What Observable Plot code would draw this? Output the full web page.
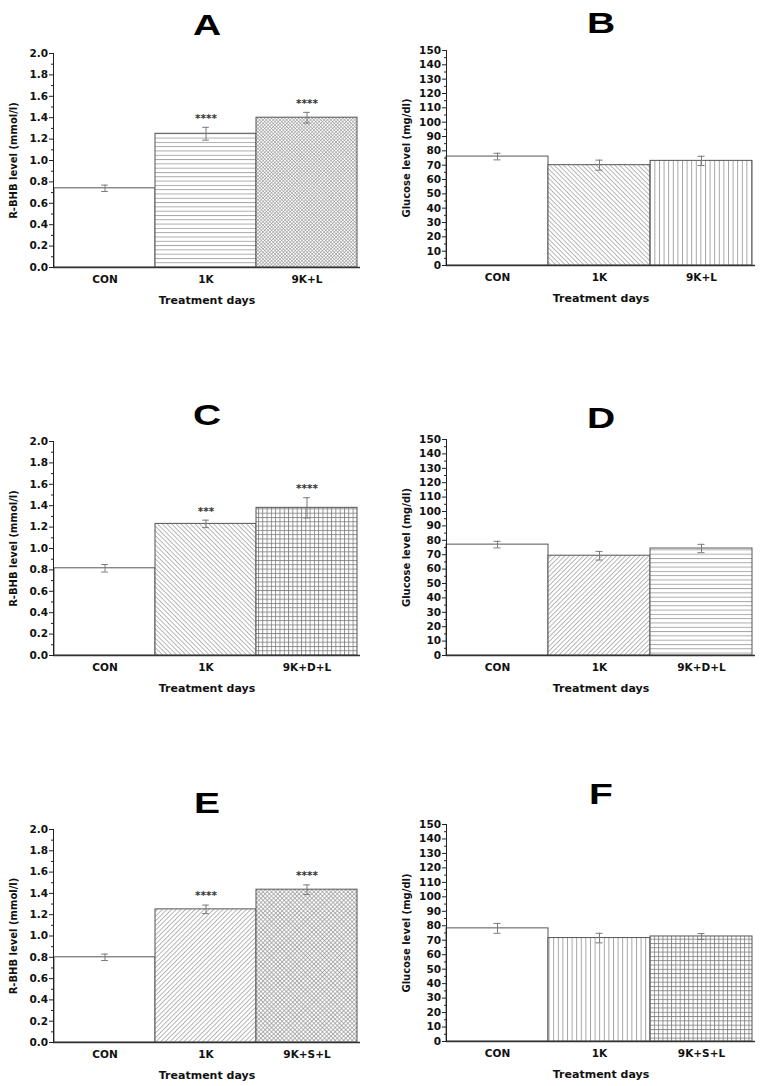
<!DOCTYPE html>
<html>
<head>
<meta charset="utf-8">
<script src="https://cdn.jsdelivr.net/npm/d3@7"></script>
<script src="https://cdn.jsdelivr.net/npm/@observablehq/plot@0.6"></script>
<style>
  body { margin: 0; background: #fff; }
  #fig { position: relative; width: 766px; height: 1086px; background: #fff; overflow: hidden; }
  .panel-title {
    position: absolute; width: 100px; text-align: center;
    font: bold 30px "Liberation Sans", Arial, sans-serif; line-height: 30px;
    color: #000; transform: scaleX(1.3);
  }
  .panel { position: absolute; }
</style>
</head>
<body>
<svg width="0" height="0" style="position:absolute">
  <defs>
    <pattern id="pH" patternUnits="userSpaceOnUse" width="10" height="4.3">
      <rect width="10" height="4.3" fill="#fff"/>
      <line x1="0" y1="0.5" x2="10" y2="0.5" stroke="#8c8c8c" stroke-width="0.8"/>
    </pattern>
    <pattern id="pV" patternUnits="userSpaceOnUse" width="4.6" height="10">
      <rect width="4.6" height="10" fill="#fff"/>
      <line x1="0.5" y1="0" x2="0.5" y2="10" stroke="#8c8c8c" stroke-width="0.8"/>
    </pattern>
    <pattern id="pBack" patternUnits="userSpaceOnUse" width="10" height="3.3" patternTransform="rotate(45)">
      <rect width="10" height="3.3" fill="#fff"/>
      <line x1="0" y1="0.5" x2="10" y2="0.5" stroke="#8c8c8c" stroke-width="0.7"/>
    </pattern>
    <pattern id="pFwd" patternUnits="userSpaceOnUse" width="10" height="3.3" patternTransform="rotate(-45)">
      <rect width="10" height="3.3" fill="#fff"/>
      <line x1="0" y1="0.5" x2="10" y2="0.5" stroke="#8c8c8c" stroke-width="0.7"/>
    </pattern>
    <pattern id="pGrid" patternUnits="userSpaceOnUse" width="4.3" height="4.3">
      <rect width="4.3" height="4.3" fill="#fff"/>
      <line x1="0" y1="0.5" x2="4.3" y2="0.5" stroke="#7a7a7a" stroke-width="0.8"/>
      <line x1="0.5" y1="0" x2="0.5" y2="4.3" stroke="#7a7a7a" stroke-width="0.8"/>
    </pattern>
    <pattern id="pXA" patternUnits="userSpaceOnUse" width="2.4" height="2.4" patternTransform="rotate(45)">
      <rect width="2.4" height="2.4" fill="#fff"/>
      <line x1="0" y1="0.3" x2="2.4" y2="0.3" stroke="#8c8c8c" stroke-width="0.6"/>
      <line x1="0.3" y1="0" x2="0.3" y2="2.4" stroke="#8c8c8c" stroke-width="0.6"/>
    </pattern>
    <pattern id="pXE" patternUnits="userSpaceOnUse" width="3" height="3" patternTransform="rotate(45)">
      <rect width="3" height="3" fill="#fff"/>
      <line x1="0" y1="0.4" x2="3" y2="0.4" stroke="#8a8a8a" stroke-width="0.7"/>
      <line x1="0.4" y1="0" x2="0.4" y2="3" stroke="#8a8a8a" stroke-width="0.7"/>
    </pattern>
  </defs>
</svg>
<div id="fig"></div>
<script>
// categories
const groupsAB = ["CON", "1K", "9K+L"];
const groupsCD = ["CON", "1K", "9K+D+L"];
const groupsEF = ["CON", "1K", "9K+S+L"];

// R-BHB level (mmol/l), mean and error bar half-length
const bhbA = [0.74, 1.25, 1.40];
const bhbErrA = [0.03, 0.06, 0.05];
const starsA = ["", "****", "****"];
const bhbC = [0.815, 1.23, 1.38];
const bhbErrC = [0.035, 0.035, 0.095];
const starsC = ["", "***", "****"];
const bhbE = [0.80, 1.25, 1.435];
const bhbErrE = [0.03, 0.04, 0.045];
const starsE = ["", "****", "****"];

// glucose level (mg/dl)
const gluB = [76, 70, 73];
const gluErrB = [2.3, 3.5, 3.2];
const gluD = [77, 69.3, 74.3];
const gluErrD = [2.3, 3, 2.9];
const gluF = [78.2, 71.5, 72.6];
const gluErrF = [3.4, 3.3, 2];

// tick labels
const bhbTicks = [0, 0.2, 0.4, 0.6, 0.8, 1.0, 1.2, 1.4, 1.6, 1.8, 2.0];
const bhbMinor = [0.1, 0.3, 0.5, 0.7, 0.9, 1.1, 1.3, 1.5, 1.7, 1.9];
const gluTicks = [0, 10, 20, 30, 40, 50, 60, 70, 80, 90, 100, 110, 120, 130, 140, 150];
const gluMinor = [5, 15, 25, 35, 45, 55, 65, 75, 85, 95, 105, 115, 125, 135, 145];

const xTitle = "Treatment days";
const bhbTitle = "R-BHB level (mmol/l)";
const gluTitle = "Glucose level (mg/dl)";

// layout of each panel (page pixels of the plot frame)
const panels = [
  {name: "A", groups: groupsAB, mean: bhbA, err: bhbErrA, stars: starsA, bhb: true,
   fills: ["#fff", "url(#pH)", "url(#pXA)"], col: 0, left: 53, right: 360, top: 53, bottom: 267, ty: 25},
  {name: "B", groups: groupsAB, mean: gluB, err: gluErrB, stars: null, bhb: false,
   fills: ["#fff", "url(#pBack)", "url(#pV)"], col: 1, left: 446, right: 755, top: 50, bottom: 265, ty: 23},
  {name: "C", groups: groupsCD, mean: bhbC, err: bhbErrC, stars: starsC, bhb: true,
   fills: ["#fff", "url(#pBack)", "url(#pGrid)"], col: 0, left: 53, right: 360, top: 441, bottom: 655, ty: 415},
  {name: "D", groups: groupsCD, mean: gluD, err: gluErrD, stars: null, bhb: false,
   fills: ["#fff", "url(#pFwd)", "url(#pH)"], col: 1, left: 446, right: 755, top: 439, bottom: 655, ty: 418},
  {name: "E", groups: groupsEF, mean: bhbE, err: bhbErrE, stars: starsE, bhb: true,
   fills: ["#fff", "url(#pFwd)", "url(#pXE)"], col: 0, left: 53, right: 360, top: 829, bottom: 1042, ty: 803},
  {name: "F", groups: groupsEF, mean: gluF, err: gluErrF, stars: null, bhb: false,
   fills: ["#fff", "url(#pV)", "url(#pGrid)"], col: 1, left: 446, right: 755, top: 824, bottom: 1041, ty: 794}
];

const fig = d3.select("#fig");

panels.forEach(p => {
  const rows = p.groups.map((g, i) => ({
    group: g, mean: p.mean[i], err: p.err[i], star: p.stars ? p.stars[i] : ""
  }));

  const colX = p.col ? 383 : 0;
  const w = 383, mt = 10, mb = 45;
  const ml = p.left - colX, mr = colX + w - p.right;
  const h = mt + (p.bottom - p.top) + mb;
  const bw = (p.right - p.left - 3) / 3;
  const cap = bw / 2 - 3.5;

  const chart = Plot.plot({
    width: w,
    height: h,
    marginLeft: ml,
    marginRight: mr,
    marginTop: mt,
    marginBottom: mb,
    x: {domain: p.groups, padding: 0, insetRight: 3, axis: null, label: null},
    y: {domain: p.bhb ? [0, 2] : [0, 150], axis: null, label: null},
    color: {type: "identity"},
    style: {
      fontFamily: "'DejaVu Sans', sans-serif",
      fontWeight: "bold",
      fontSize: "10px",
      color: "#111",
      background: "transparent"
    },
    marks: [
      Plot.barY(rows, {x: "group", y: "mean", fill: (d, i) => p.fills[i], stroke: "#555", strokeWidth: 1}),
      Plot.ruleX(rows, {x: "group", y1: d => d.mean - d.err, y2: d => d.mean + d.err, stroke: "#7a7a7a"}),
      Plot.tickY(rows, {x: "group", y: d => d.mean + d.err, stroke: "#7a7a7a", insetLeft: cap, insetRight: cap}),
      Plot.tickY(rows, {x: "group", y: d => d.mean - d.err, stroke: "#7a7a7a", insetLeft: cap, insetRight: cap}),
      Plot.text(rows.filter(d => d.star), {x: "group", y: d => d.mean + d.err, text: "star", dy: -9, fontSize: 10.5, fill: "#333"}),
      Plot.ruleY([0], {stroke: "#333", strokeWidth: 1.4}),
      Plot.frame({anchor: "left", stroke: "#222"}),
      Plot.axisY({
        ticks: p.bhb ? bhbTicks : gluTicks,
        tickFormat: p.bhb ? d3.format(".1f") : d3.format("d"),
        tickSize: 4, tickPadding: 1.5, label: null, stroke: "#222", fontSize: 10.5
      }),
      Plot.axisY({ticks: p.bhb ? bhbMinor : gluMinor, tickFormat: () => "", tickSize: 2, label: null, stroke: "#222"}),
      Plot.axisX({tickSize: 0, tickPadding: 8, label: null, fontSize: 10.5}),
      Plot.text([xTitle], {text: d => d, frameAnchor: "bottom", textAnchor: "middle", lineAnchor: "middle", dy: 33, fontSize: 11}),
      Plot.text([p.bhb ? bhbTitle : gluTitle], {
        text: d => d, frameAnchor: "left", textAnchor: "middle", lineAnchor: "middle",
        dx: -40, rotate: -90, fontSize: 10
      })
    ]
  });

  fig.append("div")
    .attr("class", "panel")
    .style("left", colX + "px")
    .style("top", (p.top - mt) + "px")
    .append(() => chart);

  fig.append("div")
    .attr("class", "panel-title")
    .style("left", ((p.left + p.right) / 2 - 50) + "px")
    .style("top", (p.ty - 15) + "px")
    .text(p.name);
});
</script>
</body>
</html>
